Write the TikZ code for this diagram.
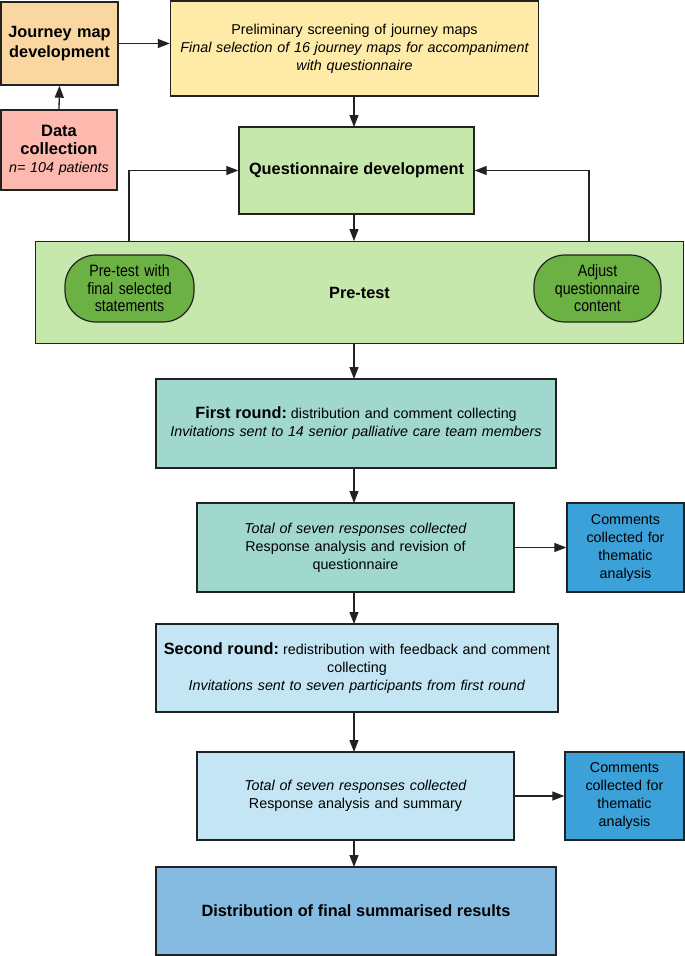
\documentclass[tikz,border=0pt]{standalone}
\usepackage{fontspec}
\setmainfont{Liberation Sans}
\newfontfamily\narrowfont[FakeStretch=0.86]{Liberation Sans}
\usetikzlibrary{arrows.meta}
\definecolor{cjm}{HTML}{FAD7A0}
\definecolor{cdc}{HTML}{FDB9AE}
\definecolor{cpre}{HTML}{FEEBA8}
\definecolor{cqd}{HTML}{C7E8AC}
\definecolor{cpill}{HTML}{6CB144}
\definecolor{cfr}{HTML}{A0D8CD}
\definecolor{csr}{HTML}{C4E5F3}
\definecolor{ccom}{HTML}{3BA1D8}
\definecolor{cfin}{HTML}{85BAE1}
\definecolor{edge}{HTML}{222222}
\tikzset{
  box/.style={draw=edge, line width=1.4pt, rectangle, align=center, inner sep=2pt,
    font=\fontsize{14.3}{18}\selectfont},
  pill/.style={draw=edge, line width=1.2pt, rectangle, rounded corners=31pt,
    align=center, inner sep=0pt,
    fill=cpill, font=\narrowfont\fontsize{16.5}{17.5}\selectfont},
  arr/.style={draw=edge, line width=1.3pt, -{Triangle[length=12pt,width=9pt]}},
  bigb/.style={font=\bfseries\fontsize{16.3}{20}\selectfont}
}
\begin{document}
\begin{tikzpicture}[x=1pt,y=-1pt]
\useasboundingbox (0,0) rectangle (685,956);
% top row
\node[box, fill=cjm, minimum width=117pt, minimum height=83pt, text width=113pt, bigb] (jm) at (59.5,43.5) {Journey map\\development};
\node[box, fill=cdc, minimum width=116pt, minimum height=80pt, text width=112pt] (dc) at (59,150)
  {{\bfseries\fontsize{16.5}{19}\selectfont Data\\collection}\\\textit{n= 104 patients}};
\node[box, fill=cpre, minimum width=368pt, minimum height=95pt, text width=364pt] (pre) at (354.5,48.5)
  {Preliminary screening of journey maps\\\textit{Final selection of 16 journey maps for accompaniment\\with questionnaire}\\[4pt]};
\node[box, fill=cqd, minimum width=235pt, minimum height=87pt, text width=231pt] (qd) at (356.5,170.5)
  {\bfseries\fontsize{16.3}{20}\selectfont Questionnaire development};
\node[box, fill=cqd, minimum width=648pt, minimum height=102pt, text width=640pt] (pt) at (359.5,292.5)
  {\bfseries\fontsize{16.3}{20}\selectfont Pre-test};
\node[pill, minimum width=129pt, minimum height=67pt, text width=120pt] (pl) at (129.5,288.5)
  {Pre-test with\\final selected\\statements};
\node[pill, minimum width=127pt, minimum height=67pt, text width=118pt] (pr) at (597.5,288.5)
  {Adjust\\questionnaire\\content};
% rounds
\node[box, fill=cfr, minimum width=400pt, minimum height=89pt, text width=396pt] (fr) at (356,423.5)
  {{\bfseries\fontsize{16.3}{18}\selectfont First round:}\hspace{4pt}distribution and comment collecting\\\textit{Invitations sent to 14 senior palliative care team members}};
\node[box, fill=cfr, minimum width=317pt, minimum height=89pt, text width=300pt] (t1) at (355.5,547.5)
  {\textit{Total of seven responses collected}\\Response analysis and revision of\\questionnaire};
\node[box, fill=ccom, minimum width=117pt, minimum height=89pt, text width=113pt] (c1) at (625.5,547.5)
  {Comments\\collected for\\thematic\\analysis};
\node[box, fill=csr, minimum width=400pt, minimum height=88pt, text width=398pt] (sr) at (357,668)
  {{\bfseries\fontsize{16.3}{18}\selectfont Second round:}\hspace{4pt}redistribution with feedback and comment\\collecting\\\textit{Invitations sent to seven participants from first round}};
\node[box, fill=csr, minimum width=317pt, minimum height=88pt, text width=300pt] (t2) at (355.5,796)
  {\textit{Total of seven responses collected}\\Response analysis and summary\\[2pt]};
\node[box, fill=ccom, minimum width=119pt, minimum height=88pt, text width=115pt] (c2) at (624.5,796)
  {Comments\\collected for\\thematic\\analysis};
\node[box, fill=cfin, minimum width=400pt, minimum height=88pt, text width=396pt] (fin) at (356,911)
  {\bfseries\fontsize{16.3}{20}\selectfont Distribution of final summarised results};
% feedback coordinates
\coordinate (fl) at (129,241);
\coordinate (fr2) at (589,241);
% connectors
\draw[arr] (dc.north) -- (jm.south);
\draw[arr] (jm.east) -- (jm.east -| pre.west);
\draw[arr] (354,96) -- (354,127);
\draw[arr] (fl) |- (qd.west);
\draw[arr] (fr2) |- (qd.east);
\draw[arr] (354,214) -- (354,241);
\draw[arr] (354,343) -- (354,379);
\draw[arr] (354,468) -- (354,503);
\draw[arr] (t1.east) -- (c1.west);
\draw[arr] (354,592) -- (354,624);
\draw[arr] (354,712) -- (354,752);
\draw[arr] (t2.east) -- (c2.west);
\draw[arr] (354,840) -- (354,867);
\end{tikzpicture}
\end{document}
